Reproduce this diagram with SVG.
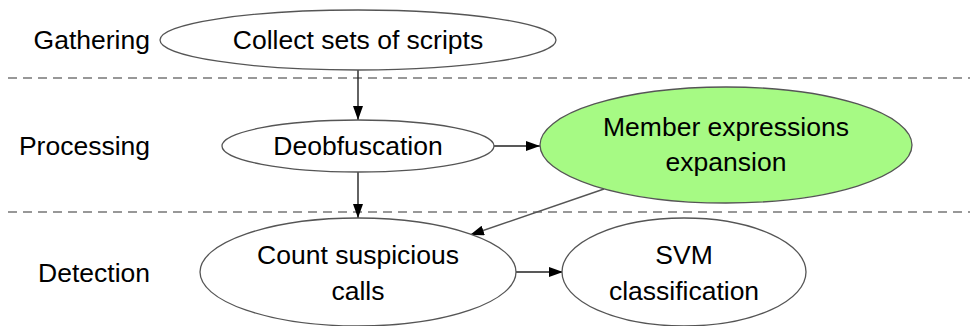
<svg xmlns="http://www.w3.org/2000/svg" width="970" height="326" viewBox="0 0 970 326">
<style>
text{font-family:"Liberation Sans",Arial,sans-serif;font-size:26.5px;fill:#000;text-anchor:middle}
.lbl{text-anchor:end}
.node ellipse{fill:#fff;stroke:#555;stroke-width:1.3}
.sep{stroke:#777;stroke-width:1.5;stroke-dasharray:9,6}
.edge{stroke:#222;stroke-width:1.4;fill:none;marker-end:url(#ah)}
</style>
<defs>
<marker id="ah" viewBox="0 0 14 10" refX="14" refY="5" markerWidth="14" markerHeight="10" markerUnits="userSpaceOnUse" orient="auto">
<path d="M0,0 L14,5 L0,10 Z" fill="#000"/>
</marker>
</defs>
<rect width="970" height="326" fill="#fff"/>
<g id="separators">
<line class="sep" x1="8" y1="78" x2="970" y2="78"/>
<line class="sep" x1="8" y1="212" x2="970" y2="212"/>
</g>
<g id="stage-labels">
<text class="lbl" x="150" y="49">Gathering</text>
<text class="lbl" x="150" y="155">Processing</text>
<text class="lbl" x="150" y="282">Detection</text>
</g>
<g id="connectors">
<line class="edge" x1="358" y1="70" x2="358" y2="120"/>
<line class="edge" x1="494" y1="146" x2="540" y2="146"/>
<line class="edge" x1="358" y1="172" x2="358" y2="218"/>
<line class="edge" x1="604" y1="189" x2="470" y2="235" style="stroke:#555"/>
<line class="edge" x1="516" y1="272" x2="563" y2="272"/>
</g>
<g id="node-collect" class="node">
<ellipse cx="358" cy="40" rx="198" ry="30"/>
<text x="358" y="49">Collect sets of scripts</text>
</g>
<g id="node-deobfuscation" class="node">
<ellipse cx="358" cy="146" rx="136" ry="26"/>
<text x="358" y="155">Deobfuscation</text>
</g>
<g id="node-member" class="node">
<ellipse cx="726" cy="145" rx="186" ry="58" style="fill:#a6fa84"/>
<text x="726" y="136">Member expressions</text>
<text x="726" y="171">expansion</text>
</g>
<g id="node-count" class="node">
<ellipse cx="358" cy="272" rx="158" ry="54"/>
<text x="358" y="264">Count suspicious</text>
<text x="358" y="300">calls</text>
</g>
<g id="node-svm" class="node">
<ellipse cx="684" cy="272" rx="122" ry="54"/>
<text x="684" y="264">SVM</text>
<text x="684" y="300">classification</text>
</g>
</svg>
